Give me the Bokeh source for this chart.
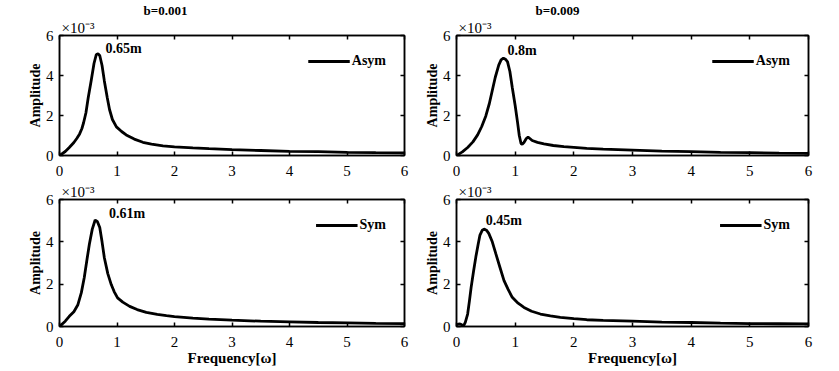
from bokeh.plotting import figure
from bokeh.layouts import column, row
from bokeh.models import Range1d, LinearAxis, FixedTicker, Label, Legend, Title
from bokeh.embed import file_html
from bokeh.resources import INLINE

# ---------------- data (amplitude in units of 1e-3) ----------------
x_ticks = [0, 1, 2, 3, 4, 5, 6]
y_ticks = [0, 2, 4, 6]

freq_asym_b001 = [0, 0.1, 0.17, 0.25, 0.30, 0.35, 0.39, 0.42, 0.46, 0.50, 0.55, 0.60, 0.64, 0.67,
                  0.70, 0.74, 0.78, 0.83, 0.87, 0.92, 0.99, 1.08, 1.16, 1.3, 1.45, 1.6, 1.8, 2.0,
                  2.32, 2.6, 3.0, 3.5, 4.0, 4.5, 5.0, 5.5, 6.0]
amp_asym_b001 = [0, 0.2, 0.4, 0.65, 0.85, 1.08, 1.35, 1.65, 2.14, 2.9, 3.73, 4.6, 5.05, 5.08,
                 5.0, 4.5, 3.73, 2.9, 2.3, 1.8, 1.43, 1.2, 1.03, 0.82, 0.66, 0.57, 0.48, 0.43,
                 0.38, 0.34, 0.29, 0.25, 0.21, 0.19, 0.16, 0.14, 0.13]

freq_asym_b009 = [0, 0.1, 0.19, 0.28, 0.36, 0.43, 0.50, 0.56, 0.61, 0.66, 0.72, 0.76, 0.80, 0.84,
                  0.87, 0.91, 0.95, 1.00, 1.04, 1.07, 1.10, 1.12, 1.15, 1.19, 1.22, 1.25, 1.29,
                  1.38, 1.49, 1.65, 1.83, 2.0, 2.22, 2.5, 3.0, 3.5, 4.0, 4.5, 5.0, 5.5, 6.0]
amp_asym_b009 = [0, 0.18, 0.4, 0.68, 1.03, 1.45, 1.98, 2.6, 3.25, 3.9, 4.52, 4.78, 4.87, 4.8,
                 4.68, 4.2, 3.41, 2.5, 1.67, 1.0, 0.6, 0.56, 0.65, 0.85, 0.92, 0.85, 0.75,
                 0.66, 0.58, 0.5, 0.44, 0.41, 0.36, 0.32, 0.27, 0.22, 0.19, 0.16, 0.14, 0.12, 0.11]

freq_sym_b001 = [0, 0.1, 0.17, 0.25, 0.32, 0.38, 0.43, 0.48, 0.52, 0.57, 0.62, 0.66, 0.70, 0.74,
                 0.78, 0.84, 0.90, 0.95, 1.01, 1.1, 1.22, 1.35, 1.51, 1.7, 1.86, 2.0, 2.32, 2.6,
                 3.0, 3.5, 4.0, 4.5, 5.0, 5.5, 6.0]
amp_sym_b001 = [0, 0.25, 0.48, 0.7, 1.03, 1.6, 2.3, 3.2, 3.9, 4.6, 5.03, 4.95, 4.68, 4.0,
                3.25, 2.5, 1.98, 1.65, 1.35, 1.15, 0.95, 0.8, 0.67, 0.57, 0.51, 0.47, 0.4, 0.35,
                0.3, 0.25, 0.22, 0.19, 0.17, 0.15, 0.14]

freq_sym_b009 = [0, 0.04, 0.07, 0.10, 0.12, 0.15, 0.19, 0.22, 0.25, 0.29, 0.33, 0.37, 0.40, 0.44,
                 0.47, 0.51, 0.55, 0.61, 0.67, 0.74, 0.81, 0.88, 0.95, 1.05, 1.15, 1.28, 1.43,
                 1.6, 1.77, 2.0, 2.22, 2.5, 3.0, 3.5, 4.0, 4.5, 5.0, 5.5, 6.0]
amp_sym_b009 = [0.08, 0.12, 0.11, 0.06, 0.03, 0.2, 0.59, 1.2, 1.86, 2.6, 3.29, 3.9, 4.32, 4.55,
                4.6, 4.55, 4.4, 4.0, 3.44, 2.8, 2.17, 1.75, 1.38, 1.1, 0.9, 0.72, 0.59,
                0.5, 0.43, 0.37, 0.32, 0.29, 0.25, 0.21, 0.19, 0.16, 0.14, 0.13, 0.12]

panel_titles = ["b=0.001", "b=0.009"]
peak_labels = ["0.65m", "0.8m", "0.61m", "0.45m"]
legend_labels = ["Asym", "Asym", "Sym", "Sym"]
multiplier_text = "\u00d710\u207b\u00b3"

FONT = "Liberation Serif"


def style_axis(ax, ticks, show_labels=True):
    ax.ticker = FixedTicker(ticks=ticks)
    ax.major_tick_in = 4
    ax.major_tick_out = 0
    ax.minor_tick_in = 0
    ax.minor_tick_out = 0
    ax.axis_line_width = 1.5
    ax.axis_line_color = "black"
    ax.major_tick_line_width = 1.5
    ax.major_label_text_font = FONT
    ax.major_label_text_font_size = "15px"
    ax.major_label_text_color = "black"
    ax.major_label_standoff = 10
    ax.axis_label_text_font = FONT
    ax.axis_label_text_font_style = "bold"
    ax.axis_label_text_font_size = "14px"
    ax.axis_label_text_color = "black"
    if not show_labels:
        ax.major_label_text_font_size = "0px"
        ax.major_label_text_alpha = 0
        ax.major_label_standoff = 0


def make_panel(freq, amp, w, h, bl, br, bt, bb, legend_label, peak_text, peak_xy,
               title=None, title_offset=0, xlabel=None):
    p = figure(width=w, height=h, output_backend="svg", toolbar_location=None,
               x_range=Range1d(0, 6), y_range=Range1d(0, 6),
               min_border_left=bl, min_border_right=br, min_border_top=bt, min_border_bottom=bb)
    p.grid.visible = False
    p.outline_line_color = "black"
    p.outline_line_width = 1.5
    p.background_fill_color = "white"
    p.border_fill_color = "white"

    r = p.line(freq, amp, line_color="black", line_width=2.8)

    style_axis(p.xaxis[0], x_ticks)
    style_axis(p.yaxis[0], y_ticks)
    p.yaxis[0].major_label_standoff = 6
    p.yaxis[0].axis_label = "Amplitude"
    p.yaxis[0].axis_label_standoff = 0
    if xlabel:
        p.xaxis[0].axis_label = xlabel
        p.xaxis[0].axis_label_standoff = 0
        p.xaxis[0].axis_label_text_font_size = "15px"

    top = LinearAxis()
    style_axis(top, x_ticks, show_labels=False)
    p.add_layout(top, "above")
    right = LinearAxis()
    style_axis(right, y_ticks, show_labels=False)
    p.add_layout(right, "right")

    legend = Legend(items=[(legend_label, [r])], location="top_right",
                    border_line_alpha=0, background_fill_alpha=0,
                    margin=18, padding=0, glyph_width=42, glyph_height=10,
                    label_height=10, label_standoff=2,
                    label_text_font=FONT, label_text_font_style="bold",
                    label_text_font_size="14px", label_text_color="black")
    p.add_layout(legend)

    p.add_layout(Label(x=peak_xy[0], y=peak_xy[1], text=peak_text, text_font=FONT,
                       text_font_style="bold", text_font_size="14px", text_color="black",
                       text_baseline="middle", text_align="left"))

    p.add_layout(Title(text=multiplier_text, align="left", offset=2, standoff=0,
                       text_font=FONT, text_font_style="normal", text_font_size="15px",
                       text_color="black"), "above")
    if title:
        p.add_layout(Title(text=title, align="left", offset=title_offset, standoff=0,
                           text_font=FONT, text_font_style="bold", text_font_size="13px",
                           text_color="black"), "above")
    return p


p1 = make_panel(freq_asym_b001, amp_asym_b001, 420, 178, 59, 16, 29, 23,
                legend_labels[0], peak_labels[0], (0.8, 5.33),
                title=panel_titles[0], title_offset=84)
p2 = make_panel(freq_asym_b009, amp_asym_b009, 418, 178, 36, 30, 29, 23,
                legend_labels[1], peak_labels[1], (0.87, 5.24),
                title=panel_titles[1], title_offset=79)
p3 = make_panel(freq_sym_b001, amp_sym_b001, 420, 193, 59, 16, 21, 45,
                legend_labels[2], peak_labels[2], (0.86, 5.36), xlabel="Frequency[\u03c9]")
p4 = make_panel(freq_sym_b009, amp_sym_b009, 418, 193, 36, 30, 21, 45,
                legend_labels[3], peak_labels[3], (0.5, 5.0), xlabel="Frequency[\u03c9]")

layout = column(row(p1, p2), row(p3, p4))

open("out.html", "w").write(file_html(layout, INLINE))
